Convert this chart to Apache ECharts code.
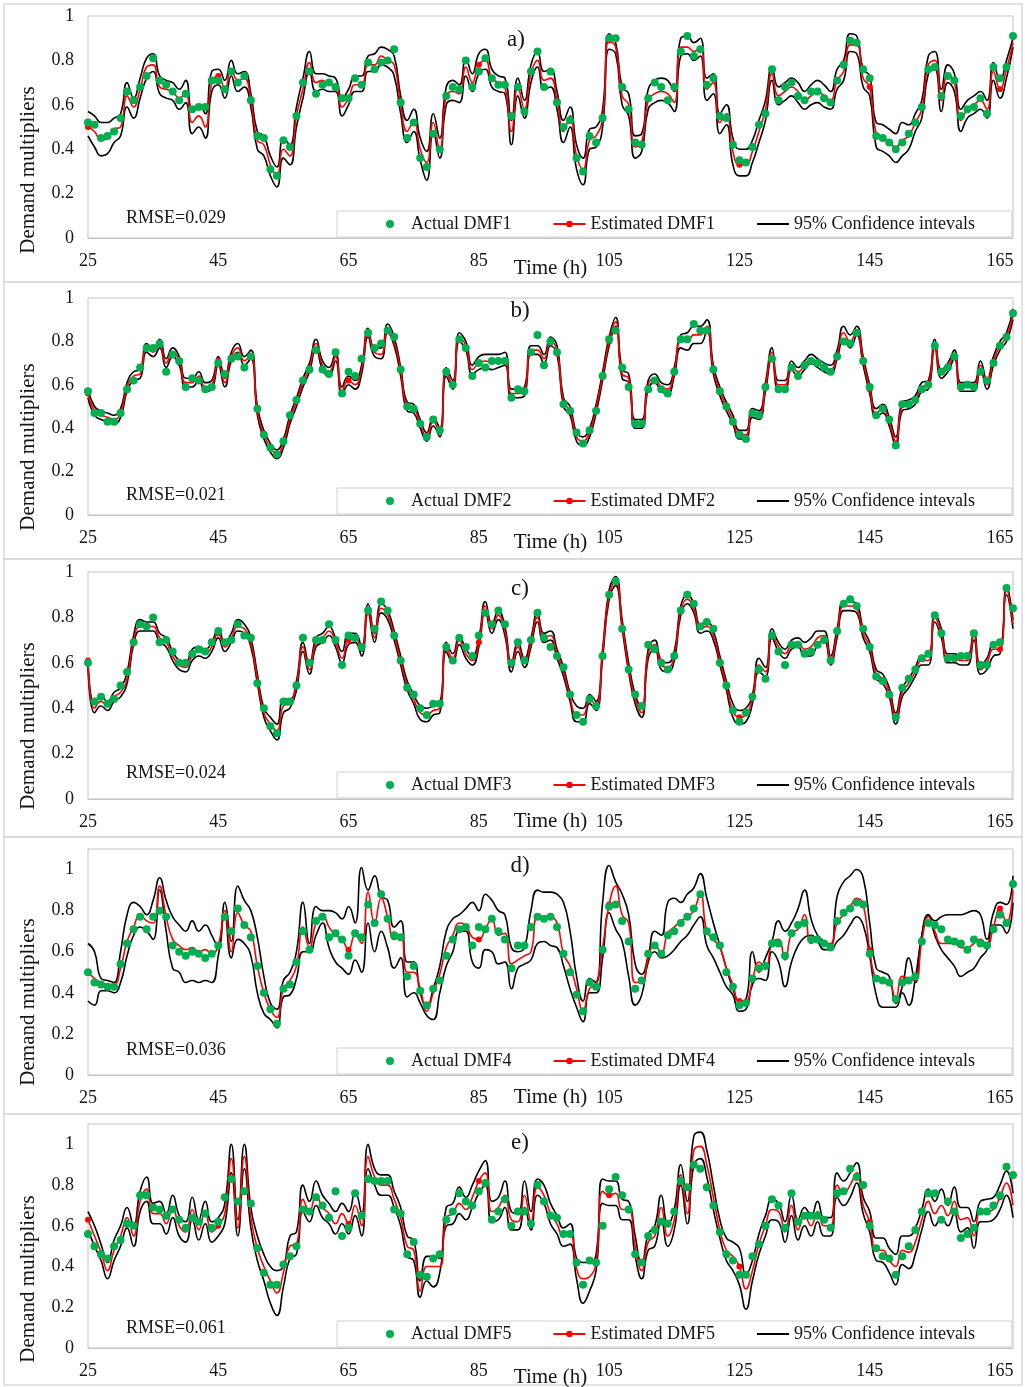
<!DOCTYPE html>
<html>
<head>
<meta charset="utf-8">
<script src="https://cdn.jsdelivr.net/npm/echarts@6/dist/echarts.min.js"></script>
<style>
html,body{margin:0;padding:0;background:#fff;}
#chart{width:1025px;height:1387px;}
</style>
</head>
<body>
<div id="chart"></div>
<script>
// ---------- categories (hours 25..167) ----------
const hours = Array.from({length: 143}, (_, i) => 25 + i);
const yTicksTop = [1, 1, 1, 1.1, 1.1];
const rmseTexts = ['RMSE=0.029', 'RMSE=0.021', 'RMSE=0.024', 'RMSE=0.036', 'RMSE=0.061'];
const panelLetters = ['a)', 'b)', 'c)', 'd)', 'e)'];
const actualNames = ['Actual DMF1', 'Actual DMF2', 'Actual DMF3', 'Actual DMF4', 'Actual DMF5'];
const estNames = ['Estimated DMF1', 'Estimated DMF2', 'Estimated DMF3', 'Estimated DMF4', 'Estimated DMF5'];
const ciName = '95% Confidence intevals';

// ---------- panel a ----------
const actual1 = [.52,.51,.45,.46,.48,.54,.66,.62,.68,.73, .81,.71,.69,.66,.62,.65,.58,.59,.59,.71,
 .71,.67,.75,.70,.73,.62,.46,.45,.31,.28, .44,.41,.55,.70,.75,.65,.69,.70,.68,.63,
 .63,.72,.69,.79,.76,.79,.80,.85,.61,.45, .52,.36,.32,.47,.40,.64,.68,.67,.80,.68,
 .75,.81,.72,.69,.69,.55,.68,.57,.75,.84, .68,.75,.61,.50,.53,.36,.30,.46,.43,.54,
 .90,.90,.68,.58,.43,.42,.63,.70,.68,.62, .68,.84,.91,.82,.85,.69,.72,.55,.54,.42,
 .35,.34,.41,.51,.56,.76,.62,.68,.70,.64, .62,.66,.66,.63,.61,.71,.78,.89,.88,.76,
 .72,.46,.45,.43,.40,.43,.47,.52,.59,.76, .77,.64,.73,.71,.55,.58,.59,.63,.56,.77,
 .72,.77,.91];
const est1 = [.50,.48,.44,.45,.49,.50,.64,.59,.67,.77, .78,.68,.67,.66,.63,.65,.52,.55,.50,.70,
 .73,.67,.76,.71,.72,.62,.44,.42,.33,.28, .40,.37,.55,.67,.79,.70,.71,.69,.69,.59,
 .63,.69,.69,.78,.78,.82,.80,.78,.60,.48, .53,.40,.34,.52,.40,.64,.66,.65,.77,.70,
 .78,.80,.72,.70,.68,.48,.68,.58,.74,.80, .71,.72,.62,.48,.55,.37,.31,.44,.46,.54,
 .89,.86,.64,.60,.41,.43,.62,.65,.66,.65, .61,.86,.86,.84,.86,.67,.70,.52,.56,.39,
 .33,.33,.39,.48,.58,.74,.64,.66,.68,.66, .62,.64,.66,.64,.62,.71,.75,.87,.87,.72,
 .68,.47,.45,.43,.41,.44,.46,.52,.58,.78, .80,.62,.74,.70,.53,.58,.60,.62,.58,.75,
 .67,.76,.88];
const upper1 = [.57,.55,.52,.52,.54,.56,.70,.63,.72,.81, .83,.73,.71,.70,.67,.71,.58,.60,.56,.75,
 .76,.71,.80,.74,.75,.65,.48,.46,.37,.32, .45,.42,.59,.72,.84,.74,.74,.73,.72,.63,
 .67,.73,.73,.82,.83,.86,.85,.82,.64,.53, .58,.45,.39,.56,.45,.68,.71,.69,.81,.74,
 .83,.85,.76,.73,.72,.53,.72,.62,.78,.84, .75,.76,.66,.53,.59,.42,.36,.49,.50,.58,
 .92,.88,.68,.65,.46,.47,.67,.71,.72,.71, .66,.90,.91,.88,.90,.72,.74,.56,.60,.45,
 .40,.40,.44,.53,.62,.77,.68,.70,.72,.70, .66,.69,.71,.69,.66,.76,.80,.92,.91,.76,
 .73,.52,.51,.49,.47,.52,.51,.56,.62,.82, .84,.67,.78,.74,.58,.62,.64,.66,.62,.79,
 .71,.80,.90];
const lower1 = [.46,.41,.37,.38,.43,.46,.59,.54,.63,.72, .75,.65,.63,.62,.58,.61,.47,.50,.45,.66,
 .69,.63,.73,.66,.68,.59,.40,.37,.28,.23, .36,.33,.50,.63,.75,.66,.67,.66,.66,.55,
 .60,.66,.66,.75,.75,.78,.77,.73,.56,.43, .48,.35,.26,.48,.36,.60,.62,.61,.73,.66,
 .74,.76,.68,.66,.65,.42,.64,.54,.70,.77, .67,.68,.58,.43,.50,.31,.24,.40,.41,.50,
 .85,.83,.60,.55,.36,.39,.58,.61,.62,.61, .57,.82,.83,.80,.82,.62,.65,.47,.51,.33,
 .28,.28,.34,.43,.53,.71,.60,.62,.64,.61, .58,.60,.61,.59,.58,.67,.71,.84,.83,.68,
 .64,.41,.39,.37,.34,.37,.40,.48,.54,.74, .76,.57,.70,.66,.48,.54,.56,.58,.54,.71,
 .63,.72,.86];

// ---------- panel b ----------
const actual2 = [.57,.47,.47,.43,.43,.47,.58,.62,.68,.77, .77,.79,.66,.74,.71,.59,.63,.62,.58,.59,
 .70,.65,.72,.73,.68,.73,.49,.37,.31,.28, .34,.46,.53,.62,.67,.76,.67,.65,.75,.56,
 .66,.64,.72,.84,.77,.79,.85,.82,.67,.50, .49,.42,.36,.44,.39,.66,.60,.81,.77,.64,
 .70,.68,.71,.71,.71,.54,.58,.57,.75,.83, .69,.80,.75,.51,.48,.38,.33,.39,.48,.64,
 .81,.85,.68,.59,.42,.42,.58,.62,.58,.56, .66,.81,.81,.88,.85,.85,.67,.57,.50,.43,
 .37,.35,.47,.46,.59,.72,.58,.58,.68,.64, .69,.71,.70,.68,.66,.73,.80,.79,.84,.71,
 .59,.46,.49,.44,.32,.51,.51,.53,.58,.60, .78,.66,.68,.73,.59,.60,.59,.66,.62,.70,
 .78,.82,.93];
const est2 = [.56,.48,.46,.45,.44,.47,.59,.64,.65,.77, .75,.79,.70,.75,.71,.61,.61,.64,.59,.60,
 .71,.61,.73,.77,.71,.74,.48,.37,.31,.28, .33,.44,.52,.61,.68,.79,.69,.66,.73,.57,
 .62,.60,.67,.84,.75,.74,.86,.80,.66,.50, .49,.42,.36,.43,.38,.66,.60,.82,.78,.67,
 .70,.71,.70,.71,.72,.56,.56,.57,.76,.76, .72,.80,.76,.52,.48,.36,.34,.38,.49,.64,
 .80,.89,.65,.63,.42,.42,.60,.63,.59,.58, .66,.80,.80,.83,.83,.87,.67,.57,.50,.44,
 .37,.37,.47,.46,.59,.75,.60,.60,.69,.66, .69,.72,.70,.68,.67,.74,.84,.80,.85,.71,
 .58,.47,.49,.43,.34,.50,.51,.53,.59,.60, .79,.65,.68,.74,.59,.59,.59,.69,.60,.71,
 .78,.82,.92];
const upper2 = [.58,.50,.48,.47,.46,.49,.61,.66,.67,.79, .77,.81,.72,.77,.73,.63,.63,.66,.61,.62,
 .73,.63,.75,.79,.73,.76,.50,.39,.33,.30, .35,.46,.54,.63,.70,.81,.71,.68,.75,.59,
 .64,.62,.69,.86,.77,.77,.88,.82,.68,.52, .51,.44,.38,.45,.40,.68,.62,.84,.80,.69,
 .73,.74,.74,.74,.75,.58,.58,.59,.78,.78, .74,.82,.78,.54,.50,.38,.36,.40,.51,.66,
 .82,.91,.67,.65,.44,.44,.62,.65,.61,.60, .68,.83,.84,.87,.87,.90,.69,.59,.52,.46,
 .39,.39,.49,.48,.61,.77,.62,.62,.71,.68, .71,.74,.72,.70,.69,.76,.87,.83,.87,.73,
 .60,.49,.51,.45,.36,.52,.53,.55,.61,.62, .81,.67,.70,.76,.61,.61,.61,.71,.62,.73,
 .80,.84,.95];
const lower2 = [.54,.46,.44,.43,.42,.45,.57,.62,.63,.75, .73,.77,.68,.73,.69,.59,.59,.62,.57,.58,
 .69,.59,.71,.75,.69,.72,.46,.35,.29,.26, .31,.42,.50,.59,.66,.77,.67,.64,.71,.55,
 .60,.58,.65,.82,.73,.72,.84,.78,.64,.48, .47,.40,.34,.41,.36,.64,.58,.80,.76,.65,
 .67,.68,.67,.68,.69,.54,.54,.55,.74,.74, .70,.78,.74,.50,.46,.34,.32,.36,.47,.62,
 .78,.87,.63,.61,.40,.40,.58,.61,.57,.56, .64,.77,.76,.79,.79,.85,.65,.55,.48,.42,
 .35,.35,.45,.44,.57,.73,.58,.58,.67,.64, .67,.70,.68,.66,.65,.72,.81,.77,.83,.69,
 .56,.45,.47,.41,.32,.48,.49,.51,.57,.58, .77,.63,.66,.72,.57,.57,.57,.67,.58,.69,
 .76,.80,.90];

// ---------- panel c ----------
const actual3 = [.60,.43,.45,.42,.44,.50,.56,.69,.77,.76, .80,.69,.70,.65,.60,.60,.64,.66,.65,.69,
 .74,.69,.70,.77,.72,.71,.51,.40,.32,.29, .43,.43,.50,.71,.60,.70,.70,.77,.70,.59,
 .72,.71,.67,.83,.75,.87,.83,.72,.61,.49, .46,.40,.37,.42,.42,.67,.61,.71,.67,.63,
 .72,.82,.77,.83,.77,.60,.69,.61,.70,.82, .71,.67,.63,.58,.46,.37,.34,.44,.41,.63,
 .90,.96,.75,.57,.46,.41,.68,.66,.60,.57, .63,.83,.90,.86,.76,.78,.75,.60,.50,.39,
 .34,.38,.45,.57,.53,.72,.65,.59,.68,.68, .64,.65,.68,.70,.61,.74,.86,.88,.85,.75,
 .67,.54,.52,.46,.36,.49,.53,.57,.62,.64, .81,.73,.62,.62,.63,.63,.73,.59,.59,.68,
 .69,.93,.84];
const est3 = [.61,.40,.43,.41,.45,.47,.53,.70,.76,.76, .76,.71,.69,.63,.59,.58,.63,.65,.64,.67,
 .73,.67,.71,.76,.75,.69,.53,.38,.33,.30, .41,.42,.50,.67,.57,.69,.71,.74,.69,.62,
 .70,.71,.65,.84,.71,.84,.81,.72,.61,.50, .44,.38,.37,.39,.40,.67,.62,.70,.64,.61,
 .69,.85,.75,.81,.74,.58,.67,.60,.69,.80, .71,.72,.64,.56,.45,.37,.37,.44,.41,.64,
 .90,.96,.77,.58,.44,.38,.64,.68,.59,.58, .63,.83,.88,.84,.75,.76,.72,.61,.50,.39,
 .36,.37,.44,.59,.56,.73,.67,.64,.68,.69, .66,.67,.71,.72,.61,.73,.85,.85,.84,.73,
 .67,.55,.53,.47,.36,.47,.51,.56,.61,.61, .80,.73,.62,.62,.61,.61,.72,.57,.60,.66,
 .66,.92,.77];
const upper3 = [.62,.42,.45,.43,.47,.49,.56,.72,.79,.78, .78,.73,.71,.65,.61,.60,.66,.67,.66,.69,
 .75,.69,.73,.79,.77,.71,.55,.40,.36,.33, .44,.44,.52,.69,.59,.71,.73,.76,.71,.65,
 .73,.73,.67,.86,.73,.86,.83,.74,.63,.52, .46,.41,.40,.41,.42,.69,.64,.72,.66,.63,
 .71,.87,.77,.83,.76,.60,.69,.62,.71,.82, .73,.74,.66,.58,.47,.41,.40,.46,.43,.66,
 .92,.98,.79,.60,.46,.40,.66,.70,.61,.60, .65,.85,.90,.86,.77,.78,.74,.63,.52,.42,
 .39,.40,.46,.62,.58,.75,.69,.66,.70,.71, .69,.71,.74,.74,.63,.75,.87,.87,.86,.75,
 .69,.57,.55,.49,.38,.49,.53,.58,.63,.63, .82,.75,.64,.64,.63,.63,.74,.59,.62,.68,
 .68,.94,.79];
const lower3 = [.59,.38,.41,.39,.43,.45,.51,.68,.74,.74, .74,.69,.67,.61,.57,.56,.61,.63,.62,.65,
 .71,.65,.69,.74,.73,.67,.51,.36,.30,.26, .38,.40,.48,.65,.55,.67,.69,.72,.67,.60,
 .68,.69,.63,.82,.69,.82,.79,.70,.59,.48, .42,.35,.34,.37,.38,.65,.60,.68,.62,.59,
 .67,.83,.73,.79,.72,.56,.65,.58,.67,.78, .69,.70,.62,.54,.43,.34,.34,.42,.39,.62,
 .88,.94,.75,.56,.42,.36,.62,.66,.57,.56, .61,.81,.86,.82,.73,.74,.70,.59,.48,.36,
 .33,.34,.42,.56,.54,.71,.65,.62,.66,.67, .63,.63,.68,.70,.59,.71,.83,.83,.82,.71,
 .65,.53,.51,.45,.33,.45,.49,.54,.59,.59, .78,.71,.60,.60,.59,.59,.70,.55,.57,.63,
 .64,.90,.75];

// ---------- panel d ----------
const actual4 = [.50,.45,.44,.43,.43,.54,.64,.71,.77,.71, .77,.80,.77,.63,.60,.58,.60,.59,.57,.59,
 .63,.77,.70,.81,.73,.67,.53,.40,.32,.25, .42,.44,.55,.70,.61,.75,.77,.67,.69,.66,
 .58,.69,.67,.83,.74,.88,.76,.68,.67,.48, .53,.41,.34,.42,.46,.58,.66,.71,.72,.63,
 .72,.71,.76,.70,.66,.52,.63,.63,.72,.77, .76,.77,.72,.59,.50,.39,.31,.45,.43,.61,
 .82,.83,.75,.65,.42,.46,.59,.63,.59,.68, .70,.74,.77,.81,.88,.70,.67,.63,.50,.43,
 .34,.35,.47,.52,.53,.64,.64,.58,.69,.73, .74,.66,.66,.64,.62,.75,.79,.81,.84,.83,
 .59,.47,.46,.45,.37,.45,.46,.48,.65,.74, .73,.71,.66,.65,.64,.61,.66,.64,.63,.71,
 .78,.74,.93];
const est4 = [.50,.47,.45,.44,.44,.52,.65,.72,.78,.75, .74,.92,.77,.66,.63,.61,.62,.60,.61,.59,
 .63,.80,.60,.79,.73,.70,.53,.40,.32,.28, .42,.46,.53,.72,.62,.74,.78,.72,.68,.66,
 .61,.68,.64,.89,.74,.86,.77,.66,.68,.50, .50,.42,.31,.40,.49,.62,.68,.74,.73,.67,
 .66,.71,.76,.68,.69,.54,.56,.58,.60,.77, .76,.77,.74,.59,.53,.42,.31,.42,.44,.62,
 .83,.92,.78,.74,.45,.45,.57,.64,.59,.69, .72,.75,.77,.80,.88,.70,.66,.62,.52,.44,
 .36,.36,.46,.55,.52,.64,.66,.56,.69,.71, .78,.64,.66,.64,.64,.74,.78,.82,.86,.83,
 .61,.47,.46,.45,.37,.48,.47,.46,.65,.77, .70,.64,.64,.64,.62,.62,.64,.66,.63,.72,
 .81,.74,.90];
const upper4 = [.64,.60,.47,.46,.45,.60,.78,.84,.82,.78, .85,.96,.85,.77,.73,.70,.75,.70,.73,.68,
 .62,.84,.65,.92,.85,.80,.67,.48,.35,.32, .46,.50,.60,.84,.64,.82,.80,.80,.79,.76,
 .82,.74,1.01,.90,.97,.87,.85,.72,.75,.55, .55,.40,.33,.42,.53,.70,.76,.78,.81,.84,
 .80,.88,.85,.80,.78,.62,.60,.62,.80,.90, .89,.89,.88,.84,.70,.48,.36,.47,.45,.84,
 1.02,.94,.88,.78,.54,.49,.58,.70,.68,.84, .86,.84,.88,.91,.98,.86,.74,.63,.52,.42,
 .36,.37,.60,.50,.57,.65,.75,.70,.74,.81, .90,.76,.68,.65,.63,.87,.94,.97,1.00,.96,
 .74,.52,.50,.48,.35,.43,.57,.45,.68,.78, .75,.77,.78,.78,.78,.79,.80,.78,.66,.79,
 .84,.83,.97];
const lower4 = [.36,.34,.41,.41,.40,.45,.58,.68,.72,.70, .66,.90,.70,.52,.50,.45,.46,.45,.46,.45,
 .58,.78,.57,.66,.64,.58,.40,.30,.27,.23, .38,.39,.47,.60,.60,.68,.74,.62,.55,.52,
 .49,.56,.50,.74,.60,.70,.62,.52,.57,.38, .40,.35,.29,.27,.40,.53,.60,.70,.70,.55,
 .52,.61,.60,.54,.55,.42,.52,.54,.56,.64, .65,.63,.62,.53,.42,.33,.26,.40,.40,.57,
 .79,.71,.65,.48,.34,.39,.55,.60,.57,.58, .61,.65,.68,.73,.77,.63,.57,.50,.43,.39,
 .31,.32,.44,.47,.46,.60,.55,.43,.55,.63, .67,.68,.65,.61,.61,.65,.68,.73,.77,.73,
 .58,.39,.33,.33,.33,.40,.34,.47,.68,.78, .68,.61,.57,.53,.48,.50,.52,.57,.61,.73,
 .73,.69,.84];

// ---------- panel e ----------
const actual5 = [.56,.50,.46,.44,.50,.53,.61,.60,.75,.75, .69,.68,.65,.68,.63,.59,.64,.62,.66,.59,
 .62,.74,.83,.72,.77,.71,.49,.37,.31,.31, .41,.45,.50,.68,.67,.74,.70,.64,.77,.55,
 .59,.76,.65,.83,.82,.82,.82,.68,.66,.46, .52,.36,.35,.44,.46,.63,.67,.76,.72,.70,
 .77,.81,.63,.67,.73,.60,.67,.67,.61,.80, .72,.65,.64,.56,.56,.42,.31,.43,.42,.60,
 .78,.84,.75,.68,.46,.42,.55,.58,.62,.61, .67,.82,.79,.90,.88,.79,.70,.57,.46,.43,
 .36,.36,.45,.51,.60,.73,.70,.59,.76,.62, .65,.65,.65,.63,.59,.76,.77,.88,.84,.80,
 .60,.49,.45,.44,.36,.45,.50,.58,.67,.76, .76,.63,.72,.67,.54,.56,.59,.67,.67,.70,
 .75,.89,.85];
const est5 = [.63,.55,.47,.38,.48,.55,.64,.55,.72,.78, .66,.66,.61,.69,.60,.57,.68,.58,.67,.57,
 .60,.66,.93,.59,.94,.64,.49,.40,.33,.27, .37,.50,.51,.73,.67,.75,.69,.66,.61,.66,
 .61,.70,.60,.94,.84,.80,.80,.73,.64,.50, .48,.28,.40,.40,.40,.64,.66,.71,.68,.74,
 .82,.86,.67,.69,.75,.63,.62,.75,.62,.79, .75,.66,.61,.55,.56,.39,.34,.35,.42,.77,
 .75,.76,.68,.68,.50,.38,.52,.55,.69,.55, .63,.85,.66,.97,.99,.90,.74,.58,.48,.45,
 .40,.29,.38,.51,.60,.68,.67,.57,.70,.58, .65,.60,.67,.60,.60,.80,.76,.80,.86,.70,
 .62,.48,.48,.43,.40,.48,.47,.52,.63,.72, .66,.70,.65,.72,.63,.64,.55,.67,.67,.68,
 .74,.81,.70];
const upper5 = [.67,.60,.51,.42,.53,.60,.69,.60,.77,.84, .71,.72,.66,.75,.65,.62,.74,.63,.72,.62,
 .64,.71,1.00,.63,1.00,.69,.55,.46,.40,.38, .40,.55,.57,.80,.72,.82,.75,.71,.67,.71,
 .67,.77,.66,1.00,.88,.85,.85,.77,.69,.55, .53,.33,.45,.45,.44,.69,.71,.79,.74,.80,
 .87,.92,.72,.74,.82,.67,.66,.82,.67,.83, .80,.71,.65,.59,.61,.44,.42,.42,.46,.83,
 .82,.82,.73,.72,.55,.41,.56,.60,.75,.61, .68,.90,.72,1.04,1.06,.97,.80,.63,.54,.52,
 .49,.36,.43,.56,.65,.73,.71,.62,.75,.63, .69,.65,.72,.64,.64,.86,.82,.86,.91,.74,
 .67,.54,.54,.49,.46,.55,.55,.59,.68,.78, .72,.78,.70,.79,.69,.69,.62,.72,.73,.74,
 .80,.87,.76];
const lower5 = [.58,.50,.43,.34,.43,.50,.59,.50,.67,.72, .61,.61,.56,.64,.55,.52,.63,.53,.61,.52,
 .55,.61,.86,.55,.88,.59,.43,.33,.22,.16, .30,.44,.46,.67,.62,.70,.64,.61,.56,.61,
 .56,.65,.55,.88,.80,.75,.75,.69,.60,.45, .43,.25,.33,.30,.37,.60,.61,.66,.63,.69,
 .76,.80,.62,.63,.69,.58,.58,.69,.58,.75, .71,.61,.56,.50,.51,.34,.22,.28,.38,.71,
 .70,.70,.63,.63,.45,.34,.48,.50,.63,.50, .58,.80,.61,.90,.93,.84,.68,.54,.43,.38,
 .31,.19,.33,.46,.55,.63,.62,.52,.65,.53, .60,.55,.62,.55,.55,.74,.70,.74,.81,.66,
 .57,.43,.42,.37,.31,.41,.39,.46,.58,.67, .60,.64,.60,.66,.57,.59,.49,.62,.62,.63,
 .68,.75,.64];

const actualSets = [actual1, actual2, actual3, actual4, actual5];
const estSets = [est1, est2, est3, est4, est5];
const upperSets = [upper1, upper2, upper3, upper4, upper5];
const lowerSets = [lower1, lower2, lower3, lower4, lower5];

[actualSets, estSets, upperSets, lowerSets].forEach((g, gi) => g.forEach((arr, i) => {
  if (arr.length !== hours.length) throw new Error('length mismatch group ' + gi + ' panel ' + (i + 1) + ': ' + arr.length);
}));

// ---------- layout (pixels) ----------
const gridTops = [16, 298, 572, 849, 1124];
const gridHeights = [222, 217, 227, 226, 224];
const panelBounds = [4, 282, 559, 837, 1114, 1385];
const timeGaps = [20, 17, 12, 12, 19];
const letterPos = [[516, 40], [520, 311], [520, 589], [520, 866], [520, 1143]];
const rmseY = [218, 495, 773, 1050, 1328];
const yTitleY = [170, 447, 726, 1002, 1279];

const FONT = "'Liberation Serif', 'Times New Roman', serif";
const TXT = '#151515';

const grids = [], xAxes = [], yAxes = [], series = [], legends = [], graphics = [];

for (let i = 0; i < 5; i++) {
  grids.push({left: 88, width: 925, top: gridTops[i], height: gridHeights[i],
    containLabel: false, outerBoundsMode: 'none',
    show: true, borderColor: '#c4c4c4', borderWidth: 1, backgroundColor: 'transparent'});
  xAxes.push({type: 'category', gridIndex: i, data: hours, boundaryGap: false,
    axisLine: {show: true, lineStyle: {color: '#c4c4c4'}}, axisTick: {show: false},
    axisLabel: {interval: 19, margin: 14, fontFamily: FONT, fontSize: 18, color: TXT},
    splitLine: {show: false},
    name: 'Time (h)', nameLocation: 'middle', nameGap: timeGaps[i], nameMoveOverlap: false,
    nameTextStyle: {fontFamily: FONT, fontSize: 21, color: TXT, verticalAlign: 'top'}});
  yAxes.push({type: 'value', gridIndex: i, min: 0, max: yTicksTop[i], interval: 0.2,
    axisLine: {show: false}, axisTick: {show: false}, splitLine: {show: false},
    axisLabel: {margin: 14, fontFamily: FONT, fontSize: 18, color: TXT,
      formatter: v => (v > 1.05 ? '' : String(+v.toFixed(1))), showMaxLabel: yTicksTop[i] <= 1}});
  series.push({type: 'line', name: ciName, xAxisIndex: i, yAxisIndex: i, data: lowerSets[i],
    smooth: 0.5, symbol: 'none', showSymbol: false, lineStyle: {color: '#000', width: 1.6},
    itemStyle: {color: '#000'}, z: 2, silent: true});
  series.push({type: 'line', name: ciName, xAxisIndex: i, yAxisIndex: i, data: upperSets[i],
    smooth: 0.5, symbol: 'none', showSymbol: false, lineStyle: {color: '#000', width: 1.6},
    itemStyle: {color: '#000'}, z: 2, silent: true});
  series.push({type: 'line', name: estNames[i], xAxisIndex: i, yAxisIndex: i, data: estSets[i],
    smooth: 0.5, symbol: 'circle', symbolSize: 6, showSymbol: true,
    lineStyle: {color: '#ff0000', width: 1.6}, itemStyle: {color: '#ff0000'}, z: 3, silent: true});
  series.push({type: 'scatter', name: actualNames[i], xAxisIndex: i, yAxisIndex: i, data: actualSets[i],
    symbol: 'circle', symbolSize: 8, itemStyle: {color: '#00b050', opacity: 1}, z: 4, silent: true});
  legends.push({left: 337, top: gridTops[i] + gridHeights[i] - 27, orient: 'horizontal',
    width: 680,
    data: [
      {name: actualNames[i]},
      {name: estNames[i]},
      {name: ciName, itemStyle: {color: 'rgba(0,0,0,0)', borderColor: 'rgba(0,0,0,0)', borderWidth: 0}}
    ],
    backgroundColor: '#fff', borderColor: '#cfcfcf', borderWidth: 1,
    padding: [4, 37, 4, 49], itemWidth: 32, itemHeight: 8, itemGap: 41,
    selectedMode: false,
    textStyle: {fontFamily: FONT, fontSize: 18, color: TXT}});

  graphics.push({type: 'rect', silent: true, z: -10,
    shape: {x: 4, y: panelBounds[i], width: 1018, height: panelBounds[i + 1] - panelBounds[i]},
    style: {fill: 'none', stroke: '#d9d9d9', lineWidth: 1.5}});
  graphics.push({type: 'text', silent: true, x: 126, y: rmseY[i],
    style: {text: rmseTexts[i], font: '18px ' + FONT, fill: TXT, textAlign: 'left', textVerticalAlign: 'middle'}});
  graphics.push({type: 'text', silent: true, x: letterPos[i][0], y: letterPos[i][1],
    style: {text: panelLetters[i], font: '23px ' + FONT, fill: TXT, textAlign: 'center', textVerticalAlign: 'middle'}});
  graphics.push({type: 'text', silent: true, x: 28, y: yTitleY[i], rotation: Math.PI / 2,
    style: {text: 'Demand multipliers', font: '21px ' + FONT, fill: TXT, textAlign: 'center', textVerticalAlign: 'middle'}});
}

const chart = echarts.init(document.getElementById('chart'), null, {renderer: 'canvas'});
chart.setOption({
  backgroundColor: '#fff',
  animation: false,
  grid: grids, xAxis: xAxes, yAxis: yAxes, series: series, legend: legends,
  graphic: graphics
});
</script>
</body>
</html>
